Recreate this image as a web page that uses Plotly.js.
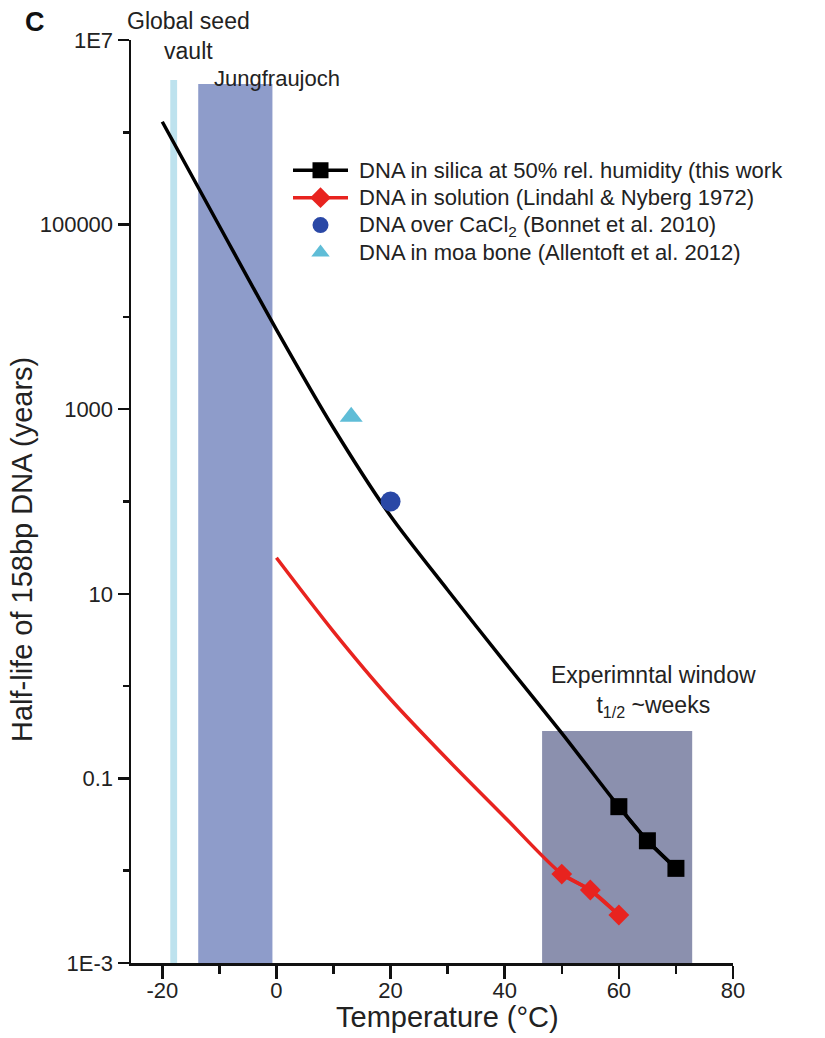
<!DOCTYPE html>
<html><head><meta charset="utf-8">
<script src="https://cdn.plot.ly/plotly-3.0.1.min.js"></script>
<style>html,body{margin:0;padding:0;background:#fff;} #chart{width:825px;height:1038px;}</style>
</head><body><div id="chart"></div>
<script>
// ---- data ----
const silicaCurveTemps = [-20, -10, 0, 10, 20, 30, 40, 50, 60, 65, 70];
const silicaCurveHalfLife = [1.30e6, 96600, 7280, 625, 69.6, 11.0, 1.82, 0.310, 0.0494, 0.0211, 0.0106];
const silicaTemps = [60, 65, 70];
const silicaHalfLife = [0.0494, 0.0211, 0.0106];

const solutionCurveTemps = [0, 10, 20, 30, 40, 50, 55, 60];
const solutionCurveHalfLife = [24.6, 3.9, 0.72, 0.16, 0.038, 0.0092, 0.00618, 0.00331];
const solutionTemps = [50, 55, 60];
const solutionHalfLife = [0.0092, 0.00618, 0.00331];

const cacl2Temps = [20];
const cacl2HalfLife = [100];
const moaTemps = [13.1];
const moaHalfLife = [830];

const seedVaultRange = [-18.6, -17.4];
const seedVaultTop = 3.69e6;
const jungfraujochRange = [-13.7, -0.7];
const jungfraujochTop = 3.33e6;
const windowRange = [46.55, 72.85];
const windowTop = 0.327;

const xTickVals = [-20, 0, 20, 40, 60, 80];
const xTickText = ['-20', '0', '20', '40', '60', '80'];
const xMinorVals = [-10, 10, 30, 50, 70];
const yTickVals = [1e-3, 0.1, 10, 1000, 1e5, 1e7];
const yTickText = ['1E-3', '0.1', '10', '1000', '100000', '1E7'];
const yMinorVals = [0.01, 1, 100, 1e4, 1e6];

const seriesNames = [
  'DNA in silica at 50% rel. humidity (this work',
  'DNA in solution (Lindahl &amp; Nyberg 1972)',
  'DNA over CaCl<sub>2</sub> (Bonnet et al. 2010)',
  'DNA in moa bone (Allentoft et al. 2012)'
];

// ---- drawing ----
const FONT = 'Liberation Sans, Arial, Helvetica, sans-serif';
const TXT = '#222';
const BLACK = '#000000', RED = '#e8231f', BLUE = '#2a48a6', CYAN = '#5fbdd7';
const legendLabel = s => '<span style="font-size:22px">&nbsp;' + s + '</span>';

const traces = [
  {x: silicaCurveTemps, y: silicaCurveHalfLife, mode: 'lines', line: {color: BLACK, width: 3.5, shape: 'spline', smoothing: 0.8}, showlegend: false, hoverinfo: 'skip'},
  {x: solutionCurveTemps, y: solutionCurveHalfLife, mode: 'lines', line: {color: RED, width: 3.5, shape: 'spline', smoothing: 0.8}, showlegend: false, hoverinfo: 'skip'},
  {x: silicaTemps, y: silicaHalfLife, mode: 'lines+markers', name: legendLabel(seriesNames[0]),
   line: {color: BLACK, width: 3.5}, marker: {symbol: 'square', size: 17, color: BLACK}},
  {x: solutionTemps, y: solutionHalfLife, mode: 'lines+markers', name: legendLabel(seriesNames[1]),
   line: {color: RED, width: 3.5}, marker: {symbol: 'diamond', size: 16, color: RED}},
  {x: cacl2Temps, y: cacl2HalfLife, mode: 'markers', name: legendLabel(seriesNames[2]),
   marker: {symbol: 'circle', size: 20, color: BLUE}},
  {x: moaTemps, y: moaHalfLife, mode: 'markers', name: legendLabel(seriesNames[3]),
   marker: {symbol: 'triangle-up', size: 20, color: CYAN}}
];

const L = 131, R = 92, T = 40, B = 75, W = 825, H = 1038;
const pw = W - L - R, ph = H - T - B;
const px = v => (v - L) / pw;          // pixel x -> paper
const py = v => (H - B - v) / ph;      // pixel y -> paper

const ann = (x, y, text, size, extra) => Object.assign({
  xref: 'paper', yref: 'paper', x: px(x), y: py(y), text: text, showarrow: false,
  xanchor: 'center', yanchor: 'middle', font: {family: FONT, size: size, color: TXT}
}, extra || {});

const layout = {
  width: W, height: H,
  margin: {l: L, r: R, t: T, b: B, pad: 0},
  paper_bgcolor: '#ffffff', plot_bgcolor: '#ffffff',
  font: {family: FONT, color: TXT, size: 22},
  showlegend: true,
  legend: {x: px(288), y: py(151.5), xanchor: 'left', yanchor: 'top',
           font: {family: FONT, size: 18.8, color: TXT}, bgcolor: 'rgba(0,0,0,0)',
           itemwidth: 55, tracegroupgap: 0},
  xaxis: {range: [-25.48, 80], showgrid: false, zeroline: false,
          showline: true, linecolor: '#111', linewidth: 2.5,
          ticks: 'outside', ticklen: 13, tickwidth: 2.5, tickcolor: '#111',
          tickmode: 'array', tickvals: xTickVals, ticktext: xTickText, ticklabelstandoff: -7,
          tickfont: {family: FONT, size: 22, color: TXT},
          minor: {tickmode: 'array', tickvals: xMinorVals, ticks: 'outside', ticklen: 8, tickwidth: 2.5, tickcolor: '#111', showgrid: false}},
  yaxis: {type: 'log', range: [-3, 7], showgrid: false, zeroline: false,
          showline: true, linecolor: '#111', linewidth: 2.5,
          ticks: 'outside', ticklen: 11, tickwidth: 2.5, tickcolor: '#111',
          tickmode: 'array', tickvals: yTickVals, ticktext: yTickText,
          tickfont: {family: FONT, size: 22, color: TXT},
          minor: {tickmode: 'array', tickvals: yMinorVals, ticks: 'outside', ticklen: 6, tickwidth: 2.5, tickcolor: '#111', showgrid: false}},
  shapes: [
    {type: 'rect', layer: 'below', xref: 'x', yref: 'y', x0: seedVaultRange[0], x1: seedVaultRange[1], y0: 1e-3, y1: seedVaultTop,
     fillcolor: '#bde2ee', line: {width: 0}},
    {type: 'rect', layer: 'below', xref: 'x', yref: 'y', x0: jungfraujochRange[0], x1: jungfraujochRange[1], y0: 1e-3, y1: jungfraujochTop,
     fillcolor: '#8e9cca', line: {width: 0}},
    {type: 'rect', layer: 'below', xref: 'x', yref: 'y', x0: windowRange[0], x1: windowRange[1], y0: 1e-3, y1: windowTop,
     fillcolor: '#8b90ae', line: {width: 0}}
  ],
  annotations: [
    ann(35, 22, '<b>C</b>', 27, {font: {family: FONT, size: 27, color: '#111'}}),
    ann(188, 36, 'Global seed<br>vault', 23),
    ann(212, 78, 'Jungfraujoch', 22, {xanchor: 'left'}),
    ann(653, 691, 'Experimntal window<br>t<sub>1/2</sub> ~weeks', 23),
    ann(448, 1017, 'Temperature (°C)', 29),
    ann(22, 550, 'Half-life of 158bp DNA (years)', 29, {textangle: -90})
  ]
};

Plotly.newPlot('chart', traces, layout, {displayModeBar: false, staticPlot: true});
</script>
</body></html>
